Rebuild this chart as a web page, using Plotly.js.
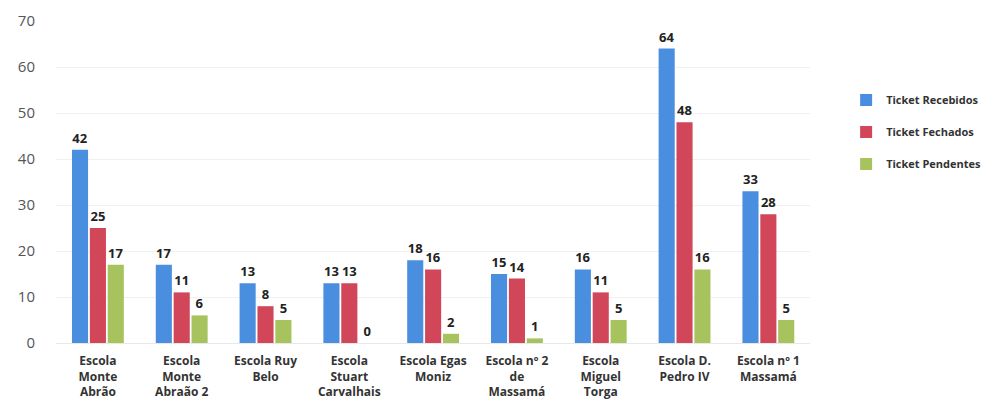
<!DOCTYPE html>
<html><head><meta charset="utf-8">
<script src="https://cdn.plot.ly/plotly-3.0.1.min.js"></script>
<style>body{margin:0;background:#fff}#c{width:1000px;height:412px}</style>
</head><body><div id="c"></div>
<script>
var categories = ["Escola<br>Monte<br>Abrão","Escola<br>Monte<br>Abraão 2","Escola Ruy<br>Belo","Escola<br>Stuart<br>Carvalhais","Escola Egas<br>Moniz","Escola nº 2<br>de<br>Massamá","Escola<br>Miguel<br>Torga","Escola D.<br>Pedro IV","Escola nº 1<br>Massamá"];
var recebidos = [42,17,13,13,18,15,16,64,33];
var fechados  = [25,11,8,13,16,14,11,48,28];
var pendentes = [17,6,5,0,2,1,5,16,5];
var seriesNames = ["Ticket Recebidos","Ticket Fechados","Ticket Pendentes"];
var colors = ["#4a8ee0","#d2465a","#a6c35e"];
var data = [recebidos,fechados,pendentes].map(function(v,i){
  return {type:'bar', x:categories, y:v, name:seriesNames[i], legendgroup:'g'+i,
    marker:{color:colors[i]}, text:v.map(String), textposition:'outside', cliponaxis:false,
    textfont:{family:'Open Sans, sans-serif', size:13, color:'#222', weight:'bold'}};
});
var layout = {
  width:1000, height:412, margin:{l:56, r:0, t:21, b:69},
  paper_bgcolor:'#fff', plot_bgcolor:'#fff',
  barmode:'group', bargap:0.36, bargroupgap:0.1,
  font:{family:'Open Sans, sans-serif'},
  xaxis:{domain:[0,0.799], tickfont:{size:12, color:'#333', weight:'bold'}, showline:false, ticks:'', automargin:false, ticklabelstandoff:9},
  yaxis:{range:[0,70], dtick:10, tickfont:{size:15, color:'#555'}, gridcolor:'#f0f0f0', zeroline:true, zerolinecolor:'#e8e8e8', ticks:'', ticklabelstandoff:20},
  legend:{x:0.837, y:0.8, xanchor:'left', yanchor:'top', traceorder:'grouped', tracegroupgap:13,
    font:{size:11, color:'#333', weight:'bold'}},
  showlegend:true
};
Plotly.newPlot('c', data, layout, {displayModeBar:false, staticPlot:true});
</script></body></html>
